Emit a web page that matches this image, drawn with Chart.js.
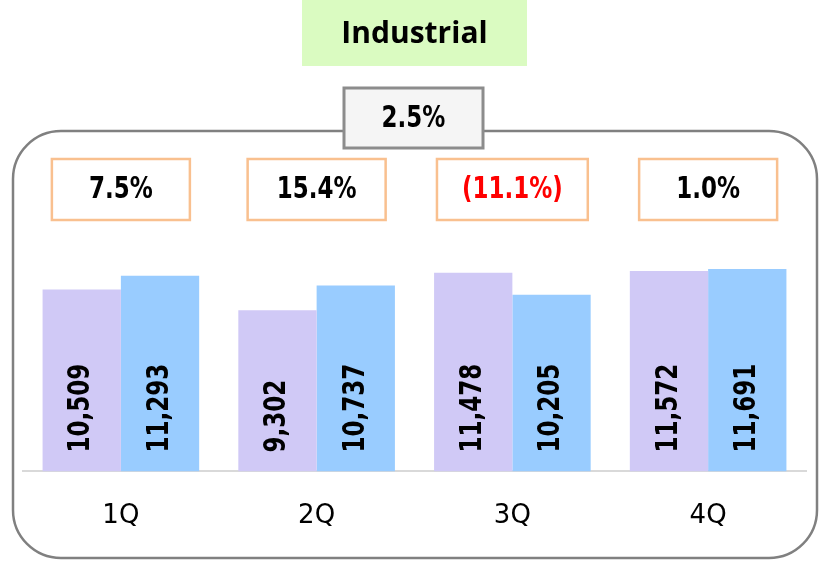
<!DOCTYPE html>
<html>
<head>
<meta charset="utf-8">
<script src="https://cdn.jsdelivr.net/npm/chart.js@4.4.1/dist/chart.umd.min.js"></script>
<style>
  body { margin: 0; background: #fff; }
  canvas { display: block; }
</style>
</head>
<body>
<canvas id="myChart" width="820" height="562"></canvas>
<script>
// data
const quarters = ['1Q', '2Q', '3Q', '4Q'];
const prevYear = [10509, 9302, 11478, 11572];
const currYear = [11293, 10737, 10205, 11691];
const growth = [7.5, 15.4, -11.1, 1.0];
const totalGrowth = 2.5;
const title = 'Industrial';

// the numbers in the picture are tall and narrow: bold font stretched in height
const numFont = 'bold 23px "DejaVu Sans"';
const stretch = 1.3;

const fmtPct = (v) => v < 0 ? '(' + Math.abs(v).toFixed(1) + '%)' : v.toFixed(1) + '%';

const roundRect = (ctx, x, y, w, h, r) => {
    ctx.beginPath();
    ctx.moveTo(x + r, y);
    ctx.lineTo(x + w - r, y);
    ctx.arcTo(x + w, y, x + w, y + r, r);
    ctx.lineTo(x + w, y + h - r);
    ctx.arcTo(x + w, y + h, x + w - r, y + h, r);
    ctx.lineTo(x + r, y + h);
    ctx.arcTo(x, y + h, x, y + h - r, r);
    ctx.lineTo(x, y + r);
    ctx.arcTo(x, y, x + r, y, r);
    ctx.closePath();
}

const tallText = (ctx, txt, x, y, angle) => {
    ctx.save();
    ctx.translate(x, y);
    if (angle) ctx.rotate(angle);
    ctx.scale(1, stretch);
    ctx.fillText(txt, 0, 0);
    ctx.restore();
}

// frame, title, growth boxes
const decorPlugin = {
    id: 'decor',
    beforeDraw(chart) {
        const ctx = chart.ctx;
        const xScale = chart.scales.x;
        ctx.save();

        // title
        ctx.fillStyle = '#DAFBC1';
        ctx.fillRect(302, 0, 225, 66);
        ctx.fillStyle = '#000';
        ctx.font = 'bold 30px "Open Sans"';
        ctx.textAlign = 'center';
        ctx.textBaseline = 'middle';
        ctx.fillText(title, 414.5, 34);

        // rounded frame
        ctx.strokeStyle = '#808080';
        ctx.lineWidth = 2.5;
        roundRect(ctx, 13, 131, 804, 427, 48);
        ctx.stroke();

        // total growth box
        ctx.fillStyle = '#F5F5F5';
        ctx.fillRect(344, 88, 139, 60);
        ctx.strokeStyle = '#8C8C8C';
        ctx.lineWidth = 3;
        ctx.strokeRect(344, 88, 139, 60);
        ctx.fillStyle = '#000';
        ctx.font = numFont;
        tallText(ctx, fmtPct(totalGrowth), 413.5, 119);

        // quarter growth boxes
        growth.forEach((g, i) => {
            const cx = xScale.getPixelForValue(i);
            const txt = fmtPct(g);
            ctx.font = numFont;
            const w = Math.max(138, ctx.measureText(txt).width + 50);
            ctx.fillStyle = '#fff';
            ctx.fillRect(cx - w / 2, 159, w, 61);
            ctx.strokeStyle = '#F9C08F';
            ctx.lineWidth = 2.5;
            ctx.strokeRect(cx - w / 2, 159, w, 61);
            ctx.fillStyle = g < 0 ? '#FF0000' : '#000';
            tallText(ctx, txt, cx, 190);
        });
        ctx.restore();
    }
}

// vertical value labels inside the bars
const barLabelPlugin = {
    id: 'barLabels',
    afterDatasetsDraw(chart) {
        const ctx = chart.ctx;
        const base = chart.scales.y.getPixelForValue(0);
        ctx.save();
        ctx.font = numFont;
        ctx.fillStyle = '#000';
        ctx.textAlign = 'left';
        ctx.textBaseline = 'middle';
        chart.data.datasets.forEach((ds, d) => {
            chart.getDatasetMeta(d).data.forEach((bar, i) => {
                tallText(ctx, ds.data[i].toLocaleString('en-US'), bar.x, base - 19, -Math.PI / 2);
            });
        });
        ctx.restore();
    }
}

const ctx = document.getElementById('myChart').getContext('2d');
const myChart = new Chart(ctx, {
    type: 'bar',
    data: {
        labels: quarters,
        datasets: [
            { label: 'Prior year', data: prevYear, backgroundColor: '#D0C9F6' },
            { label: 'Current year', data: currYear, backgroundColor: '#99CCFF' }
        ]
    },
    options: {
        responsive: false,
        animation: false,
        layout: { padding: { left: 23, right: 14, top: 229, bottom: 0 } },
        datasets: { bar: { barPercentage: 1, categoryPercentage: 0.8 } },
        plugins: { legend: { display: false }, tooltip: { enabled: false } },
        scales: {
            x: {
                grid: { display: false, drawTicks: false },
                border: { display: true, color: '#D9D9D9', width: 2 },
                ticks: { color: '#000', padding: 31, font: { family: 'DejaVu Sans', size: 26, lineHeight: 1.1 } }
            },
            y: {
                display: false,
                min: 0,
                max: 14000
            }
        }
    },
    plugins: [decorPlugin, barLabelPlugin]
});
</script>
</body>
</html>
